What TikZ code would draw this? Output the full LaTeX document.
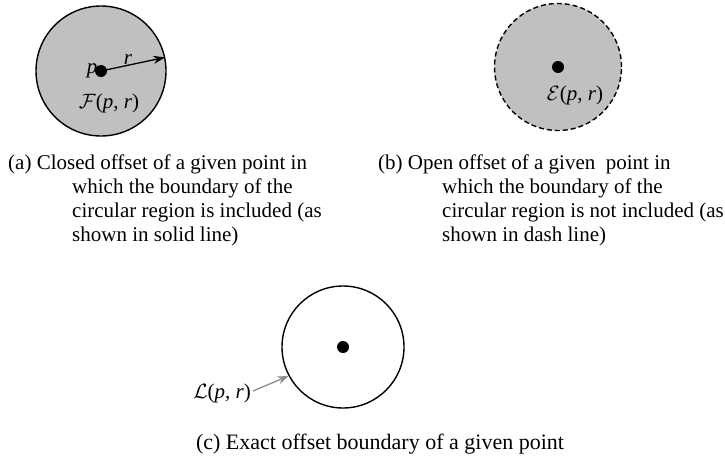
\documentclass[tikz,border=0pt]{standalone}
\usepackage{fontspec}
\setmainfont{Liberation Serif}
\usetikzlibrary{arrows.meta}
\definecolor{regiongray}{RGB}{192,192,192}
\definecolor{arrowgray}{RGB}{140,140,140}
\begin{document}
\begin{tikzpicture}[x=1pt,y=-1pt,
  region/.style={circle,draw=black,line width=1.4pt,inner sep=0pt,minimum size=#1},
  centerdot/.style={circle,fill=black,inner sep=0pt,minimum size=12pt},
  lbl/.style={inner sep=0pt,font=\fontsize{21}{23}\selectfont},
  caption/.style={inner sep=0pt,align=left,anchor=north west,font=\fontsize{21}{24}\selectfont},
  radiusarrow/.style={-{Stealth[length=12pt,width=8pt]},line width=1.3pt},
  pointer/.style={-{Stealth[length=11pt,width=8pt]},line width=1.3pt,draw=arrowgray}]
\useasboundingbox (0,0) rectangle (725,463);
% (a)
\node[region=130pt,fill=regiongray] (ca) at (101,71) {};
\node[centerdot] (pa) at (101,71) {};
\node[lbl] (lp) at (92,71) {\textit{p}};
\node[lbl] (lr) at (128,60) {\textit{r}};
\node[lbl] (lF) at (109,103) {$\mathcal{F}$(\textit{p}, \textit{r})};
\draw[radiusarrow] (pa.center) -- (ca.12);
\node[caption] (capa) at (8,155) {(a) Closed offset of a given point in\\
\hspace*{64pt}which the boundary of the\\
\hspace*{64pt}circular region is included (as\\
\hspace*{64pt}shown in solid line)};
% (b)
\node[region=127pt,fill=regiongray,dashed,dash pattern=on 5pt off 3pt] (cb) at (558,67) {};
\node[centerdot] (pb) at (558,67) {};
\node[lbl] (lE) at (575,95) {$\mathcal{E}$(\textit{p}, \textit{r})};
\node[caption] (capb) at (378,155) {(b) Open offset of a given\ \ point in\\
\hspace*{64pt}which the boundary of the\\
\hspace*{64pt}circular region is not included (as\\
\hspace*{64pt}shown in dash line)};
% (c)
\node[region=122pt] (cc) at (343,347) {};
\node[centerdot] (pc) at (343,347) {};
\node[lbl,anchor=east] (lL) at (251,393) {$\mathcal{L}$(\textit{p}, \textit{r})};
\draw[pointer] (lL.east) ++(2,-2) coordinate (lLs) (lLs) -- (cc.208);
\node[caption,anchor=north,font=\fontsize{22}{24}\selectfont] (capc) at (380,434) {(c) Exact offset boundary of a given point};
\end{tikzpicture}
\end{document}
